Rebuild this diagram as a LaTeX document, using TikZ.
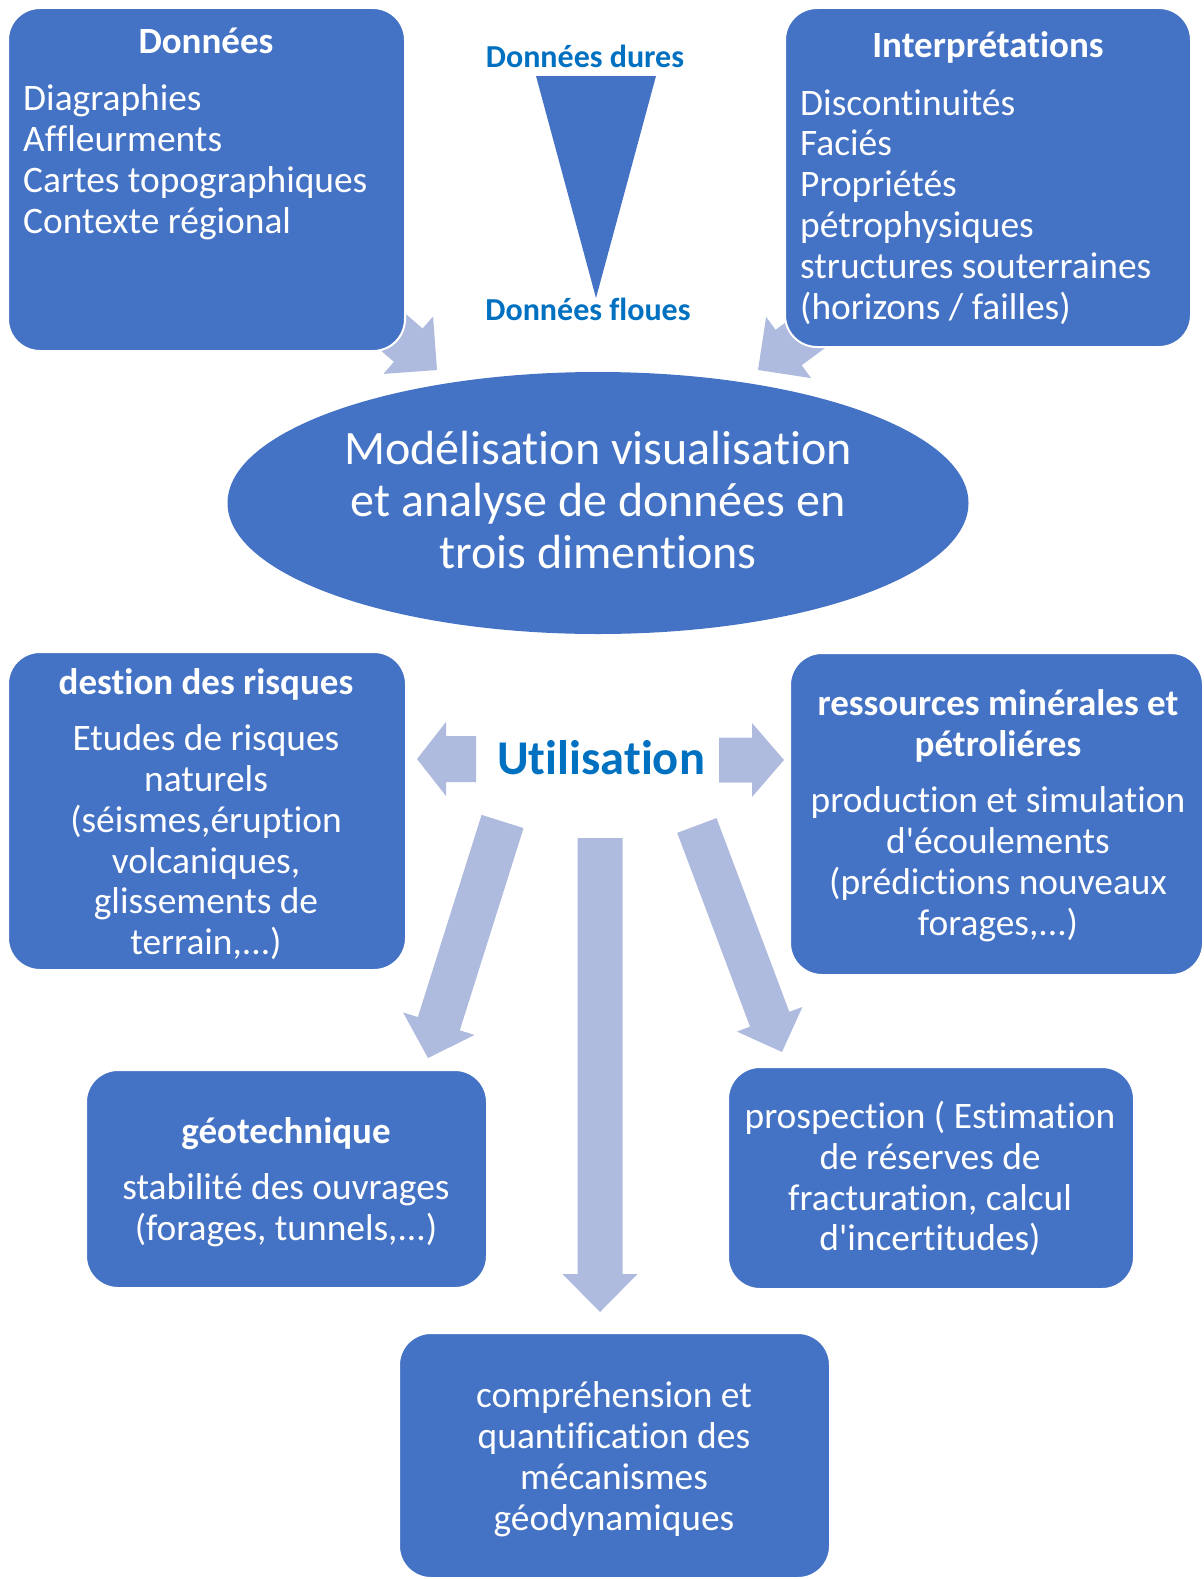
\documentclass[tikz,border=0pt]{standalone}
\usepackage{fontspec}
\setmainfont{Carlito}[Ligatures={TeXOff,NoCommon}]
\usetikzlibrary{shapes.geometric}
\definecolor{boxblue}{HTML}{4472C4}
\definecolor{arrowblue}{HTML}{AFBBDE}
\definecolor{textblue}{HTML}{0070C0}
\newcommand{\blockarrow}[7]{%
  \begin{scope}[shift={(#1,#2)}, rotate=-#3]
    \fill[arrowblue] (0,0) -- (-#7,#6/2) -- (-#7,#5/2) -- (-#4,#5/2) -- (-#4,-#5/2) -- (-#7,-#5/2) -- (-#7,-#6/2) -- cycle;
  \end{scope}}
\tikzset{
  box/.style={fill=boxblue, draw=white, line width=2pt, rounded corners=32pt, inner sep=0pt},
  body/.style={text=white, inner sep=0pt, font=\fontsize{37.4}{40.8}\selectfont},
  ttl/.style={text=white, inner sep=0pt, font=\fontsize{37}{40.5}\selectfont\bfseries},
  bluetxt/.style={text=textblue, inner sep=0pt, font=\fontsize{32}{36}\selectfont\bfseries},
}
\begin{document}
\begin{tikzpicture}[x=1pt,y=-1pt]
\useasboundingbox (0,0) rectangle (1204,1579);
% arrows to the ellipse (under the boxes)
\blockarrow{437}{370}{40.8}{110}{44}{76}{38}
\blockarrow{758}{370}{143.7}{110}{44}{76}{38}
% top boxes
\node[box, minimum width=397, minimum height=343] (donnees) at (206.5,179.5) {};
\node[box, minimum width=406, minimum height=339] (interp) at (988,177.5) {};
\node[ttl, anchor=base] (tdon) at (206,53) {Données};
\node[body, align=left, anchor=west] (bdon) at (23,164) {\strut Diagraphies\\\strut Affleurments\\\strut Cartes topographiques\\\strut Contexte régional};
\node[ttl, anchor=base] (tint) at (988,58) {Interprétations};
\node[body, align=left, anchor=west] (bint) at (800,209) {\strut Discontinuités\\\strut Faciés\\\strut Propriétés\\\strut pétrophysiques\\\strut structures souterraines\\\strut (horizons / failles)};
% triangle
\fill[boxblue] (536,76) -- (656,76) -- (596,298) -- cycle;
\node[bluetxt, anchor=base] (dures) at (585,67) {Données dures};
\node[bluetxt, anchor=base] (floues) at (588,320) {Données floues};
% ellipse
\node[ellipse, fill=boxblue, minimum width=741, minimum height=262, inner sep=0pt] (model) at (598,503) {};
\node[text=white, inner sep=0pt, align=center, font=\fontsize{48}{52}\selectfont] (tmodel) at (598,506.5) {\strut Modélisation visualisation\\\strut et analyse de données en\\\strut trois dimentions};
% utilisation
\node[inner sep=0pt, text=textblue, font=\fontsize{48.5}{55}\selectfont\bfseries, anchor=base] (util) at (601,774) {Utilisation};
\blockarrow{417}{759}{180}{59}{46}{74}{29}
\blockarrow{784}{760}{0}{65}{45}{74}{32}
\blockarrow{600}{1312}{90}{474}{45}{75}{38}
\blockarrow{428}{1058}{107.5}{248}{44}{75}{36}
\blockarrow{782}{1052}{69.4}{242}{42}{70}{35}
% middle boxes
\node[box, minimum width=398, minimum height=318] (risques) at (207,811) {};
\node[ttl, anchor=base] (trisq) at (206,694) {destion des risques};
\node[body, align=center] (brisq) at (206,844.5) {\strut Etudes de risques\\\strut naturels\\\strut (séismes,éruption\\\strut volcaniques,\\\strut glissements de\\\strut terrain,...)};
\node[box, minimum width=413, minimum height=322] (ressources) at (996.5,814) {};
\node[ttl, align=center] (tress) at (998,728) {\strut ressources minérales et\\\strut pétroliéres};
\node[body, align=center] (bress) at (998,866) {\strut production et simulation\\\strut d'écoulements\\\strut (prédictions nouveaux\\\strut forages,...)};
% lower boxes
\node[box, minimum width=401, minimum height=218] (geotech) at (286.5,1179) {};
\node[ttl, anchor=base] (tgeo) at (286,1143) {géotechnique};
\node[body, align=center] (bgeo) at (286,1212) {\strut stabilité des ouvrages\\\strut (forages, tunnels,...)};
\node[box, minimum width=406, minimum height=222] (prosp) at (931,1178) {};
\node[body, align=center] (bprosp) at (930,1181.5) {\strut prospection ( Estimation\\\strut de réserves de\\\strut fracturation, calcul\\\strut d'incertitudes)};
\node[box, minimum width=431, minimum height=245] (geodyn) at (614.5,1455.5) {};
\node[body, align=center] (bgeodyn) at (614,1461) {\strut compréhension et\\\strut quantification des\\\strut mécanismes\\\strut géodynamiques};
\end{tikzpicture}
\end{document}
